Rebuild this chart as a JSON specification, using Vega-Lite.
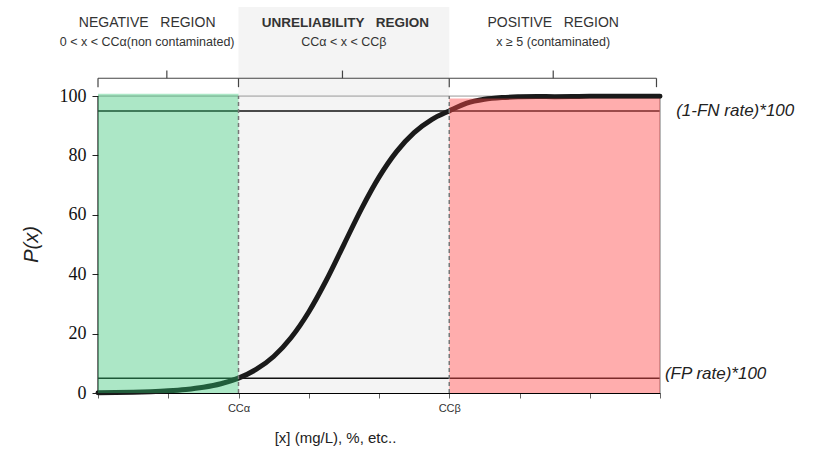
{
  "$schema": "https://vega.github.io/schema/vega-lite/v6.json",
  "width": 562,
  "height": 386,
  "autosize": {"type": "none"},
  "padding": {"left": 98, "top": 7, "right": 167, "bottom": 67},
  "config": {"view": {"stroke": null}, "font": "Liberation Sans"},
  "datasets": {
    "curve": [
      {"x": 0, "y": 0.1}, {"x": 0.25, "y": 0.17}, {"x": 0.5, "y": 0.28}, {"x": 0.75, "y": 0.45},
      {"x": 1.0, "y": 0.73}, {"x": 1.25, "y": 1.19}, {"x": 1.5, "y": 1.93}, {"x": 1.75, "y": 3.11},
      {"x": 2.0, "y": 5.0}, {"x": 2.25, "y": 7.92}, {"x": 2.5, "y": 12.3}, {"x": 2.75, "y": 18.7},
      {"x": 3.0, "y": 27.3}, {"x": 3.25, "y": 37.97}, {"x": 3.5, "y": 50}, {"x": 3.75, "y": 62.03},
      {"x": 4.0, "y": 72.7}, {"x": 4.25, "y": 81.3}, {"x": 4.5, "y": 87.7}, {"x": 4.75, "y": 92.08},
      {"x": 5.0, "y": 95.0}, {"x": 5.25, "y": 97.6}, {"x": 5.5, "y": 98.9}, {"x": 5.75, "y": 99.5},
      {"x": 6.0, "y": 99.75}, {"x": 6.25, "y": 99.85}, {"x": 6.5, "y": 99.8}, {"x": 6.75, "y": 99.85},
      {"x": 7.0, "y": 99.9}, {"x": 7.5, "y": 99.95}, {"x": 8.0, "y": 99.98}
    ],
    "zones": [
      {"x": 0, "x2": 2, "y": 0, "y2": 100.8, "zone": "negative"},
      {"x": 5, "x2": 8, "y": 0, "y2": 99.2, "zone": "positive"}
    ],
    "grayzone": [{"x": 2, "x2": 5, "y": 0, "y2": 130}],
    "hlines": [{"x": 0, "x2": 8, "y": 95}, {"x": 0, "x2": 8, "y": 5}],
    "topline": [{"x": 0, "x2": 8, "y": 100}],
    "frame": [{"x": 0, "y": 0, "y2": 100, "c": "left"}, {"x": 8, "y": 0, "y2": 100, "c": "right"}],
    "vlines": [{"x": 2, "y": 0, "y2": 100}, {"x": 5, "y": 0, "y2": 100}],
    "brackets": [
      {"x": 0, "x2": 2, "y": 106, "y2": 106},
      {"x": 2, "x2": 5, "y": 106, "y2": 106},
      {"x": 5, "x2": 7.95, "y": 106, "y2": 106},
      {"x": 0, "x2": 0, "y": 106, "y2": 103},
      {"x": 2, "x2": 2, "y": 106, "y2": 103},
      {"x": 5, "x2": 5, "y": 106, "y2": 103},
      {"x": 7.95, "x2": 7.95, "y": 106, "y2": 103},
      {"x": 0.98, "x2": 0.98, "y": 106, "y2": 108.6},
      {"x": 3.48, "x2": 3.48, "y": 106, "y2": 108.6},
      {"x": 6.48, "x2": 6.48, "y": 106, "y2": 108.6}
    ],
    "head1": [
      {"x": 0.7, "y": 124.6, "text": "NEGATIVE\u00a0\u00a0\u00a0REGION"},
      {"x": 6.48, "y": 124.6, "text": "POSITIVE\u00a0\u00a0\u00a0REGION"}
    ],
    "head1b": [
      {"x": 3.52, "y": 124.6, "text": "UNRELIABILITY\u00a0\u00a0\u00a0REGION"}
    ],
    "head2": [
      {"x": 0.7, "y": 118.2, "text": "0 < x < CCα(non contaminated)"},
      {"x": 3.5, "y": 118.2, "text": "CCα < x < CCβ"},
      {"x": 6.48, "y": 118.2, "text": "x ≥ 5 (contaminated)"}
    ],
    "rlabels": [
      {"x": 8.23, "y": 95, "text": "(1-FN rate)*100"},
      {"x": 8.07, "y": 6.5, "text": "(FP rate)*100"}
    ]
  },
  "layer": [
    {
      "data": {"name": "grayzone"},
      "mark": {"type": "rect", "color": "#f4f4f4"},
      "encoding": {
        "x": {"field": "x", "type": "quantitative", "scale": {"domain": [0, 8], "nice": false},
          "axis": {"values": [0, 1, 2, 3, 4, 5, 6, 7, 8], "grid": false,
            "labelExpr": "datum.value == 2 ? 'CCα' : datum.value == 5 ? 'CCβ' : ''",
            "labelFontSize": 11, "labelColor": "#333", "labelPadding": 4,
            "tickSize": 5, "tickColor": "#666", "domainColor": "#000", "domainWidth": 1.2,
            "title": "[x] (mg/L), %, etc..", "titleFontSize": 15, "titleFontWeight": "normal",
            "titleColor": "#222", "titleX": 237, "titleY": 44, "titleBaseline": "middle", "titleAlign": "center"}},
        "x2": {"field": "x2"},
        "y": {"field": "y", "type": "quantitative", "scale": {"domain": [0, 130], "nice": false},
          "axis": {"values": [0, 20, 40, 60, 80, 100], "grid": false, "domain": false,
            "labelFont": "Liberation Serif", "labelFontSize": 18, "labelColor": "#111", "labelPadding": 6,
            "tickSize": 6, "tickColor": "#222",
            "title": "P(x)", "titleFont": "Liberation Sans", "titleFontStyle": "italic", "titleFontWeight": "normal",
            "titleFontSize": 20, "titleColor": "#222", "titleAngle": -90, "titleX": -67, "titleY": 237,
            "titleAlign": "center", "titleBaseline": "middle"}},
        "y2": {"field": "y2"}
      }
    },
    {
      "data": {"name": "topline"},
      "mark": {"type": "rule", "color": "#999", "strokeWidth": 1},
      "encoding": {"x": {"field": "x", "type": "quantitative"}, "x2": {"field": "x2"}, "y": {"field": "y", "type": "quantitative"}}
    },
    {
      "data": {"name": "hlines"},
      "mark": {"type": "rule", "color": "#111", "strokeWidth": 1.5},
      "encoding": {"x": {"field": "x", "type": "quantitative"}, "x2": {"field": "x2"}, "y": {"field": "y", "type": "quantitative"}}
    },
    {
      "data": {"name": "frame"},
      "mark": {"type": "rule", "strokeWidth": 1.2},
      "encoding": {
        "x": {"field": "x", "type": "quantitative"},
        "y": {"field": "y", "type": "quantitative"}, "y2": {"field": "y2"},
        "color": {"field": "c", "type": "nominal", "scale": {"domain": ["left", "right"], "range": ["#111", "#888"]}, "legend": null}
      }
    },
    {
      "data": {"name": "curve"},
      "mark": {"type": "line", "color": "#1a1a1a", "strokeWidth": 5, "interpolate": "monotone", "strokeCap": "round"},
      "encoding": {"x": {"field": "x", "type": "quantitative"}, "y": {"field": "y", "type": "quantitative"}}
    },
    {
      "data": {"name": "zones"},
      "mark": {"type": "rect"},
      "encoding": {
        "x": {"field": "x", "type": "quantitative"}, "x2": {"field": "x2"},
        "y": {"field": "y", "type": "quantitative"}, "y2": {"field": "y2"},
        "fill": {"field": "zone", "type": "nominal", "scale": {"domain": ["negative", "positive"], "range": ["#2fc270", "#ff4a4a"]}, "legend": null},
        "fillOpacity": {"field": "zone", "type": "nominal", "scale": {"domain": ["negative", "positive"], "range": [0.4, 0.45]}, "legend": null}
      }
    },
    {
      "data": {"name": "vlines"},
      "mark": {"type": "rule", "color": "#777", "strokeWidth": 1.5, "strokeDash": [4, 3]},
      "encoding": {"x": {"field": "x", "type": "quantitative"}, "y": {"field": "y", "type": "quantitative"}, "y2": {"field": "y2"}}
    },
    {
      "data": {"name": "brackets"},
      "mark": {"type": "rule", "color": "#444", "strokeWidth": 1.2},
      "encoding": {"x": {"field": "x", "type": "quantitative"}, "x2": {"field": "x2"}, "y": {"field": "y", "type": "quantitative"}, "y2": {"field": "y2"}}
    },
    {
      "data": {"name": "head1"},
      "mark": {"type": "text", "fontSize": 14, "color": "#333", "align": "center", "baseline": "middle"},
      "encoding": {"x": {"field": "x", "type": "quantitative"}, "y": {"field": "y", "type": "quantitative"}, "text": {"field": "text"}}
    },
    {
      "data": {"name": "head1b"},
      "mark": {"type": "text", "fontSize": 13.5, "fontWeight": "bold", "color": "#333", "align": "center", "baseline": "middle"},
      "encoding": {"x": {"field": "x", "type": "quantitative"}, "y": {"field": "y", "type": "quantitative"}, "text": {"field": "text"}}
    },
    {
      "data": {"name": "head2"},
      "mark": {"type": "text", "fontSize": 12.5, "color": "#333", "align": "center", "baseline": "middle"},
      "encoding": {"x": {"field": "x", "type": "quantitative"}, "y": {"field": "y", "type": "quantitative"}, "text": {"field": "text"}}
    },
    {
      "data": {"name": "rlabels"},
      "mark": {"type": "text", "fontSize": 17, "fontStyle": "italic", "color": "#222", "align": "left", "baseline": "middle"},
      "encoding": {"x": {"field": "x", "type": "quantitative"}, "y": {"field": "y", "type": "quantitative"}, "text": {"field": "text"}}
    }
  ]
}
